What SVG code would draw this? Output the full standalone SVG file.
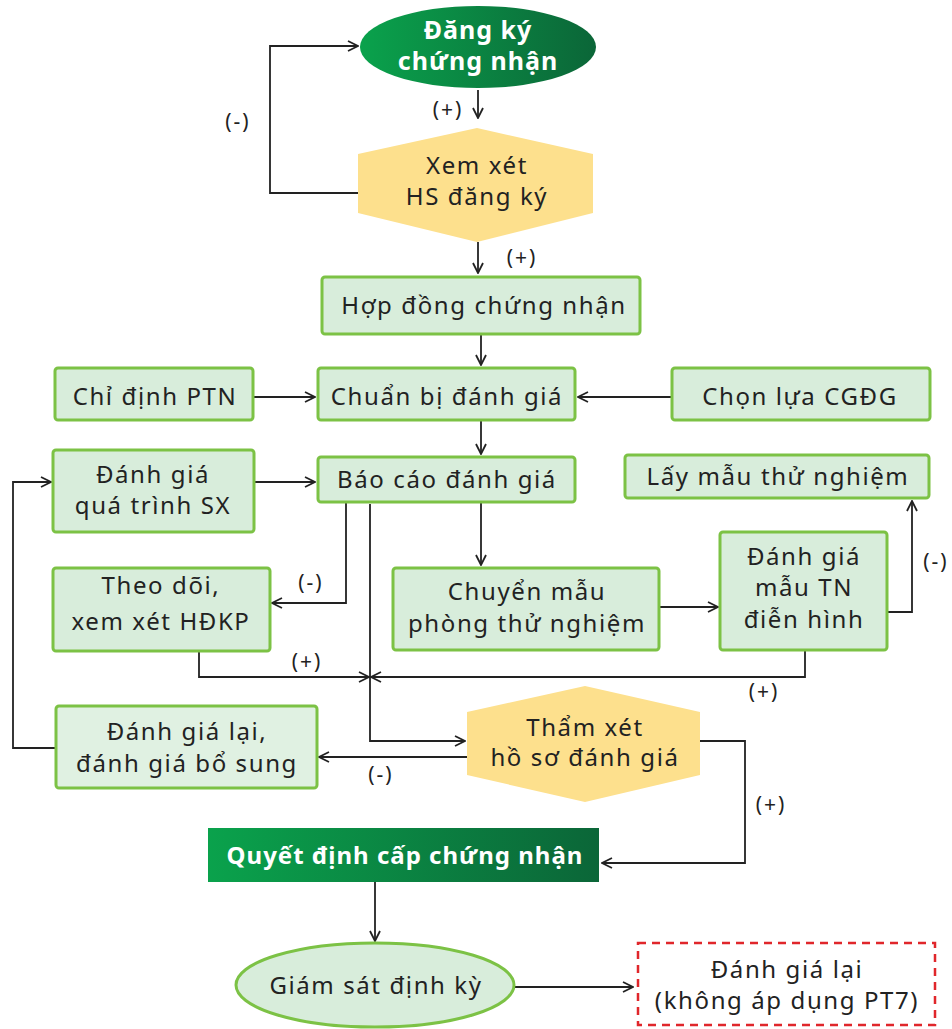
<svg xmlns="http://www.w3.org/2000/svg" width="952" height="1029" viewBox="0 0 952 1029">
<defs>
<linearGradient id="gDark" x1="0" y1="0" x2="1" y2="0">
<stop offset="0" stop-color="#0aa24c"/><stop offset="1" stop-color="#0b6638"/>
</linearGradient>
<marker id="arr" viewBox="0 0 12 12" refX="11" refY="6" markerWidth="12" markerHeight="12" markerUnits="userSpaceOnUse" orient="auto">
<path d="M1,1 L11,6 L1,11" fill="none" stroke="#222" stroke-width="1.8"/>
</marker>
<style>
.box{fill:#d8eddb;stroke:#7cc245;stroke-width:3}
.hex{fill:#fde08d}
.t{font-family:"Noto Sans","Open Sans",sans-serif;font-size:24px;letter-spacing:1.6px;fill:#222;text-anchor:middle}
.tb{font-family:"Noto Sans","Open Sans",sans-serif;font-size:24px;letter-spacing:1px;font-weight:bold;fill:#fff;text-anchor:middle}
.lbl{font-family:"Noto Sans","Open Sans",sans-serif;font-size:21px;letter-spacing:2px;fill:#222;text-anchor:middle}
.c{fill:none;stroke:#222;stroke-width:1.8}
</style>
</defs>
<rect width="952" height="1029" fill="#fff"/>

<g id="connectors">
<path class="c" d="M478,90 V118" marker-end="url(#arr)"/>
<path class="c" d="M358,193 H270 V46 H358" marker-end="url(#arr)"/>
<path class="c" d="M478,242 V273" marker-end="url(#arr)"/>
<path class="c" d="M481,334 V365" marker-end="url(#arr)"/>
<path class="c" d="M253,397 H315" marker-end="url(#arr)"/>
<path class="c" d="M672,397 H578" marker-end="url(#arr)"/>
<path class="c" d="M481,420 V454" marker-end="url(#arr)"/>
<path class="c" d="M254,482 H315" marker-end="url(#arr)"/>
<path class="c" d="M346,502 V603 H272" marker-end="url(#arr)"/>
<path class="c" d="M481,502 V565" marker-end="url(#arr)"/>
<path class="c" d="M660,607 H718" marker-end="url(#arr)"/>
<path class="c" d="M888,612 H912 V501" marker-end="url(#arr)"/>
<path class="c" d="M199,651 V677 H369" marker-end="url(#arr)"/>
<path class="c" d="M805,651 V677 H371" marker-end="url(#arr)"/>
<path class="c" d="M370,504 V741 H465" marker-end="url(#arr)"/>
<path class="c" d="M467,757 H319" marker-end="url(#arr)"/>
<path class="c" d="M55,748 H13 V482 H51" marker-end="url(#arr)"/>
<path class="c" d="M700,741 H745 V863 H602" marker-end="url(#arr)"/>
<path class="c" d="M375,882 V941" marker-end="url(#arr)"/>
<path class="c" d="M514,987 H633" marker-end="url(#arr)"/>
<text class="lbl" x="448" y="117">(+)</text>
<text class="lbl" x="238" y="129">(-)</text>
<text class="lbl" x="522" y="265">(+)</text>
<text class="lbl" x="311" y="590">(-)</text>
<text class="lbl" x="307" y="669">(+)</text>
<text class="lbl" x="764" y="699">(+)</text>
<text class="lbl" x="936" y="569">(-)</text>
<text class="lbl" x="381" y="782">(-)</text>
<text class="lbl" x="771" y="812">(+)</text>
</g>

<g id="dang-ky">
<ellipse cx="478" cy="47" rx="118" ry="41" fill="url(#gDark)"/>
<text class="tb" x="478" y="39" style="font-size:25px">Đăng ký</text>
<text class="tb" x="478" y="70" style="font-size:25px">chứng nhận</text>
</g>

<g id="xem-xet">
<polygon class="hex" points="358,154 477,128 593,154 593,213 477,242 358,213"/>
<text class="t" x="477" y="174">Xem xét</text>
<text class="t" x="477" y="205">HS đăng ký</text>
</g>

<g id="hop-dong">
<rect class="box" x="322" y="277" width="318" height="57" rx="3"/>
<text class="t" x="484" y="314">Hợp đồng chứng nhận</text>
</g>

<g id="chi-dinh">
<rect class="box" x="55" y="368" width="198" height="52" rx="3"/>
<text class="t" x="155" y="405">Chỉ định PTN</text>
</g>

<g id="chuan-bi">
<rect class="box" x="318" y="368" width="257" height="52" rx="3"/>
<text class="t" x="447" y="405">Chuẩn bị đánh giá</text>
</g>

<g id="chon-lua">
<rect class="box" x="672" y="368" width="258" height="52" rx="3"/>
<text class="t" x="800" y="405">Chọn lựa CGĐG</text>
</g>

<g id="danh-gia-sx">
<rect class="box" x="53" y="450" width="201" height="82" rx="3"/>
<text class="t" x="153" y="483">Đánh giá</text>
<text class="t" x="153" y="514">quá trình SX</text>
</g>

<g id="bao-cao">
<rect class="box" x="318" y="457" width="257" height="45" rx="3"/>
<text class="t" x="447" y="488">Báo cáo đánh giá</text>
</g>

<g id="lay-mau">
<rect class="box" x="625" y="455" width="304" height="43" rx="3"/>
<text class="t" x="778" y="485">Lấy mẫu thử nghiệm</text>
</g>

<g id="theo-doi">
<rect class="box" x="53" y="568" width="217" height="83" rx="3"/>
<text class="t" x="161" y="594">Theo dõi,</text>
<text class="t" x="161" y="630">xem xét HĐKP</text>
</g>

<g id="chuyen-mau">
<rect class="box" x="393" y="568" width="266" height="82" rx="3"/>
<text class="t" x="527" y="600">Chuyển mẫu</text>
<text class="t" x="527" y="632">phòng thử nghiệm</text>
</g>

<g id="danh-gia-mau">
<rect class="box" x="720" y="532" width="167" height="118" rx="3"/>
<text class="t" x="804" y="565">Đánh giá</text>
<text class="t" x="804" y="596">mẫu TN</text>
<text class="t" x="804" y="628">điễn hình</text>
</g>

<g id="danh-gia-lai">
<rect class="box" x="56" y="706" width="261" height="82" rx="3" style="fill:#e0f1e2"/>
<text class="t" x="187" y="740">Đánh giá lại,</text>
<text class="t" x="187" y="772">đánh giá bổ sung</text>
</g>

<g id="tham-xet">
<polygon class="hex" points="467,712 585,686 700,712 700,775 585,802 467,775"/>
<text class="t" x="585" y="736">Thẩm xét</text>
<text class="t" x="585" y="766">hồ sơ đánh giá</text>
</g>

<g id="quyet-dinh">
<rect x="208" y="828" width="391" height="54" fill="url(#gDark)"/>
<text class="tb" x="405" y="864">Quyết định cấp chứng nhận</text>
</g>

<g id="giam-sat">
<ellipse cx="375" cy="985" rx="139" ry="42" fill="#d8eddb" stroke="#7cc245" stroke-width="3"/>
<text class="t" x="376" y="994">Giám sát định kỳ</text>
</g>

<g id="danh-gia-lai-pt7">
<rect x="638" y="943" width="297" height="82" fill="#fff" stroke="#e0262b" stroke-width="2.5" stroke-dasharray="8,6"/>
<text class="t" x="787" y="978">Đánh giá lại</text>
<text class="t" x="787" y="1009">(không áp dụng PT7)</text>
</g>
</svg>
